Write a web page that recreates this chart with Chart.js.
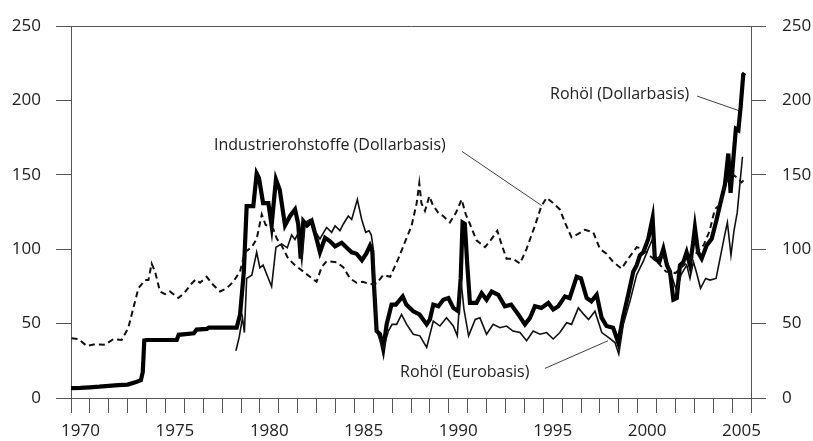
<!DOCTYPE html>
<html>
<head>
<meta charset="utf-8">
<script src="https://cdn.jsdelivr.net/npm/chart.js@4.4.1/dist/chart.umd.min.js"></script>
<style>
  html, body { margin: 0; padding: 0; background: #fff; }
</style>
</head>
<body>
<canvas id="myChart" width="813" height="441"></canvas>
<script>
// Rohöl (Dollarbasis) - thick line
const oilUsdYears = [
  1970.0, 1970.5, 1971.0, 1971.5, 1972.0, 1972.5, 1973.0, 1973.4, 1973.7, 1973.8, 1973.88, 1974.0,
  1975.6, 1975.7, 1976.5, 1976.65, 1977.2, 1977.3, 1978.77, 1978.95, 1979.15, 1979.3, 1979.65, 1979.83,
  1979.95, 1980.17, 1980.45, 1980.62, 1980.85, 1981.05, 1981.33, 1981.6, 1981.86, 1982.03, 1982.16, 1982.3,
  1982.5, 1982.74, 1983.0, 1983.18, 1983.45, 1983.7, 1983.98, 1984.33, 1984.6, 1984.86, 1985.12, 1985.4,
  1985.63, 1985.83, 1985.95, 1986.04,
  1986.18, 1986.36, 1986.53, 1986.71, 1986.97, 1987.2, 1987.56, 1987.75, 1988.12, 1988.45, 1988.83, 1989.0,
  1989.18, 1989.45, 1989.71, 1989.98, 1990.24, 1990.5, 1990.63, 1990.73, 1990.85, 1990.98, 1991.12, 1991.47,
  1991.74, 1992.0, 1992.27, 1992.62, 1992.97, 1993.3, 1993.68, 1994.03, 1994.3, 1994.56, 1994.9, 1995.27,
  1995.53, 1995.8, 1996.15, 1996.4, 1996.77, 1997.0, 1997.3, 1997.55, 1997.83, 1998.09, 1998.35, 1998.7,
  1998.97, 1999.24, 1999.5, 1999.77, 1999.95, 2000.12, 2000.3, 2000.56, 2000.79, 2000.91, 2001.15, 2001.36,
  2001.55, 2001.71, 2001.89, 2002.07, 2002.24, 2002.42, 2002.59, 2002.77, 2002.94, 2003.03, 2003.2, 2003.39,
  2003.65, 2003.92, 2004.18, 2004.36, 2004.62, 2004.8, 2004.92, 2005.06, 2005.2, 2005.33, 2005.45, 2005.59, 2005.65
];
const oilUsdValues = [
  6.6, 6.8, 7.2, 7.6, 8.2, 8.6, 9.0, 10.5, 12, 17.5, 38.7, 39,
  39, 42.5, 43.5, 46, 46.5, 47.3, 47.3, 56, 85, 129, 129, 151,
  148, 131, 131, 116, 147, 140, 116, 122.4, 126.8, 117, 93.7, 119,
  116, 119, 107, 98, 107.7, 105.5, 102, 104.4, 101, 98, 97, 92.6,
  97, 102.5, 99, 76,
  45, 43, 33, 49.5, 62.8, 62.8, 68.3, 62.8, 58.3, 56.2, 49.5, 52.8,
  62.8, 61.7, 66.1, 67.2, 60.6, 58.3, 80.4, 118, 117, 89.3, 64, 64,
  70.5, 66.1, 71.6, 69.4, 61.7, 62.8, 56.2, 49.5, 53.9, 61.7, 60.6, 63.9,
  59.5, 61.7, 68.3, 67.2, 81.5, 80.4, 67.2, 65, 69.4, 54, 48.4, 47.3,
  37.3, 55, 69.4, 85, 89.3, 96, 98, 107, 121, 93.7, 91.5, 100.3,
  89.3, 85, 66.1, 67.2, 89.3, 91.5, 98, 89.3, 104.8, 114.7, 98, 93.7,
  102.5, 107, 120, 130, 143.4, 164.4, 138, 160, 181, 180, 195.4, 217.5, 218.6
];

// Rohöl (Eurobasis) - thin line
const oilEurYears = [
  1978.73, 1978.9, 1979.08, 1979.18, 1979.3, 1979.57, 1979.83, 1980.0, 1980.17, 1980.45, 1980.62, 1980.85,
  1981.15, 1981.45, 1981.68, 1981.86, 1982.03, 1982.22, 1982.4, 1982.66, 1982.9, 1983.18, 1983.53, 1983.8,
  1983.98, 1984.24, 1984.42, 1984.68, 1984.86, 1985.16, 1985.39, 1985.6, 1985.78, 1985.9, 1986.0,
  1986.18, 1986.53, 1986.8,
  1987.0, 1987.24, 1987.5, 1987.77, 1988.12, 1988.47, 1988.83, 1989.18, 1989.53, 1989.88, 1990.24, 1990.45,
  1990.65, 1990.8, 1991.05, 1991.4, 1991.65, 1992.0, 1992.35, 1992.71, 1993.06, 1993.4, 1993.77, 1994.12,
  1994.47, 1994.83, 1995.18, 1995.53, 1995.88, 1996.24, 1996.5, 1996.86, 1997.15, 1997.4, 1997.74, 1998.1,
  1998.45, 1998.8, 1999.0, 1999.24, 1999.59, 1999.95, 2000.3, 2000.56, 2000.79, 2000.95, 2001.3, 2001.6,
  2001.9, 2002.07, 2002.3, 2002.6, 2002.77, 2002.95, 2003.1, 2003.33, 2003.6, 2003.83, 2004.15, 2004.36,
  2004.62, 2004.75, 2004.94, 2005.1, 2005.27, 2005.4, 2005.55
];
const oilEurValues = [
  31.8, 40.6, 54, 44, 80.4, 82.5, 98, 87.5, 89.3, 80.4, 75, 101.4,
  103.6, 101, 109.6, 106.6, 111, 91.5, 118, 120, 112.5, 107, 114.7, 111.4,
  115.8, 112.5, 117, 122.4, 120, 133.5, 120, 111.4, 112.5, 109.6, 100.3,
  45, 33, 45,
  49.5, 49.5, 56.2, 49.5, 42.9, 41.8, 34, 51.7, 48.4, 53.9, 48.4, 41.8,
  79, 60, 41.8, 52.8, 53.9, 42.9, 49.5, 47.3, 48.4, 45, 44, 38.5,
  45, 42.9, 44, 39.7, 44, 50.6, 49.5, 60.6, 56.2, 52.8, 58.3, 44,
  40.8, 37.3, 29.6, 49.5, 65, 83, 92, 100.3, 107, 93.7, 96, 90.4,
  78.2, 72, 83, 89.3, 80.4, 91.5, 85, 73.8, 80.4, 79.3, 80.4, 93.7,
  110.3, 118, 96, 112.5, 124.6, 142.3, 162.2
];

// Industrierohstoffe (Dollarbasis) - dashed line
const rawYears = [
  1970.03, 1970.4, 1970.83, 1971.2, 1971.8, 1972.24, 1972.68, 1973.03, 1973.3, 1973.57, 1973.92, 1974.1,
  1974.27, 1974.45, 1974.71, 1974.98, 1975.24, 1975.68, 1976.0, 1976.39, 1976.6, 1976.83, 1977.18, 1977.53,
  1977.89, 1978.24, 1978.59, 1978.95, 1979.2, 1979.57, 1979.83, 1980.1, 1980.3, 1980.71, 1980.9, 1981.15,
  1981.5, 1981.86, 1982.3, 1982.65, 1983.0, 1983.27, 1983.53, 1984.06, 1984.41, 1984.77, 1985.12, 1985.45,
  1985.83, 1986.18, 1986.53, 1986.9, 1987.33, 1987.68, 1988.03, 1988.3, 1988.44, 1988.55, 1988.74, 1988.97,
  1989.15, 1989.44, 1989.7, 1990.06, 1990.38, 1990.68, 1990.9, 1991.12, 1991.47, 1991.92, 1992.27, 1992.57,
  1992.8, 1993.06, 1993.4, 1993.77, 1994.12, 1994.56, 1994.9, 1995.18, 1995.53, 1995.88, 1996.15, 1996.5,
  1996.85, 1997.2, 1997.65, 1998.0, 1998.35, 1998.7, 1999.15, 1999.5, 1999.95, 2000.3, 2000.6, 2001.0,
  2001.5, 2002.0, 2002.5, 2003.0, 2003.5, 2003.8, 2004.09, 2004.36, 2004.62, 2004.97, 2005.27, 2005.5, 2005.65
];
const rawValues = [
  40.2, 39.6, 35, 36, 35.8, 39.6, 39, 47, 60.5, 73.8, 79.3, 79.3,
  90.4, 85, 71.6, 69.8, 71.6, 67.2, 70.7, 77, 79.7, 77.5, 81.5, 76,
  71.6, 73.8, 78.2, 85, 98, 101.4, 107, 123.5, 116.5, 113.6, 107, 102.5,
  93.7, 89.3, 85, 81.5, 78.2, 88, 92, 91.3, 88, 80.4, 77.5, 78.2,
  76.5, 77, 82.7, 81.5, 93.7, 104.8, 115.8, 131, 144.5, 131, 125.8, 135.7,
  130, 124.6, 122.4, 118, 124.6, 133.5, 123.5, 117, 106, 101.4, 107, 112.5,
  103, 93.7, 93.7, 90.4, 100.3, 115.8, 129, 134.6, 131, 126.8, 118, 108,
  110.3, 113.1, 111.4, 100.3, 97, 91.5, 87, 93.7, 101.4, 100.3, 96, 92,
  85, 84, 90, 96, 103, 112, 127, 130, 143, 151, 148, 145, 147
];

const yTicks = [0, 50, 100, 150, 200, 250];

function toPoints(xs, ys) {
  return xs.map((x, i) => ({ x: x, y: ys[i] }));
}

// labels with leader lines, anchored in data units
const notes = [
  { text: "Rohöl (Dollarbasis)", at: [1995.36, 204], from: [2003.15, 203], to: [2005.41, 193] },
  { text: "Industrierohstoffe (Dollarbasis)", at: [1977.57, 169.7], from: [1990.7, 165.8], to: [1994.93, 129.3] },
  { text: "Rohöl (Eurobasis)", at: [1987.42, 17.2], from: [1995.09, 19.9], to: [1998.43, 38.5] },
];

const fontFamily = "'Open Sans', 'Noto Sans', sans-serif";
const axisColor = "#555";
const textColor = "#222";

const notesPlugin = {
  id: "notes",
  afterDatasetsDraw(chart) {
    const { ctx } = chart;
    const xs = chart.scales.x;
    const ys = chart.scales.y;
    ctx.save();
    ctx.font = "16px " + fontFamily;
    ctx.fillStyle = textColor;
    ctx.textBaseline = "middle";
    ctx.textAlign = "left";
    notes.forEach((n) => {
      ctx.fillText(n.text, xs.getPixelForValue(n.at[0]), ys.getPixelForValue(n.at[1]));
      ctx.beginPath();
      ctx.strokeStyle = "#111";
      ctx.lineWidth = 0.8;
      ctx.moveTo(xs.getPixelForValue(n.from[0]), ys.getPixelForValue(n.from[1]));
      ctx.lineTo(xs.getPixelForValue(n.to[0]), ys.getPixelForValue(n.to[1]));
      ctx.stroke();
    });
    ctx.restore();
  },
};

Chart.defaults.font.family = fontFamily;
Chart.defaults.color = textColor;

const ctx = document.getElementById("myChart");

const myChart = new Chart(ctx, {
  type: "line",
  data: {
    datasets: [
      {
        label: "Industrierohstoffe (Dollarbasis)",
        data: toPoints(rawYears, rawValues),
        borderColor: "#111",
        borderWidth: 2,
        borderDash: [6, 4],
        pointRadius: 0,
        tension: 0,
        yAxisID: "y",
      },
      {
        label: "Rohöl (Eurobasis)",
        data: toPoints(oilEurYears, oilEurValues),
        borderColor: "#111",
        borderWidth: 1.6,
        pointRadius: 0,
        tension: 0,
        yAxisID: "y",
      },
      {
        label: "Rohöl (Dollarbasis)",
        data: toPoints(oilUsdYears, oilUsdValues),
        borderColor: "#000",
        borderWidth: 4.2,
        pointRadius: 0,
        tension: 0,
        yAxisID: "y",
      },
    ],
  },
  options: {
    responsive: false,
    animation: false,
    layout: { padding: { top: 21, left: 0, right: 0, bottom: 0 } },
    plugins: {
      legend: { display: false },
      tooltip: { enabled: false },
    },
    scales: {
      x: {
        type: "linear",
        min: 1970,
        max: 2006,
        afterFit: (s) => { s.height = 43; },
        ticks: {
          stepSize: 1,
          autoSkip: false,
          maxRotation: 0,
          labelOffset: 9.44,
          padding: 8,
          font: { size: 17 },
          color: textColor,
          callback: (v) => (v % 5 === 0 && v < 2006 ? String(v) : ""),
        },
        grid: { drawOnChartArea: false, tickLength: 15, color: axisColor, tickColor: axisColor },
        border: { display: true, color: axisColor, width: 1 },
      },
      y: {
        position: "left",
        min: yTicks[0],
        max: yTicks[yTicks.length - 1],
        afterFit: (s) => { s.width = 71; },
        afterBuildTicks: (s) => { s.ticks = yTicks.map((v) => ({ value: v })); },
        ticks: { padding: 15, font: { size: 17 }, color: textColor },
        grid: {
          drawOnChartArea: true,
          tickLength: 15,
          tickColor: axisColor,
          color: (c) => (c.tick && (c.tick.value === 0 || c.tick.value === 250) ? axisColor : "rgba(0,0,0,0)"),
        },
        border: { display: true, color: axisColor, width: 1 },
      },
      y2: {
        position: "right",
        min: yTicks[0],
        max: yTicks[yTicks.length - 1],
        afterFit: (s) => { s.width = 62; },
        afterBuildTicks: (s) => { s.ticks = yTicks.map((v) => ({ value: v })); },
        ticks: { padding: 16, font: { size: 17 }, color: textColor },
        grid: { drawOnChartArea: false, tickLength: 15, color: axisColor, tickColor: axisColor },
        border: { display: true, color: axisColor, width: 1 },
      },
    },
  },
  plugins: [notesPlugin],
});
</script>
</body>
</html>
